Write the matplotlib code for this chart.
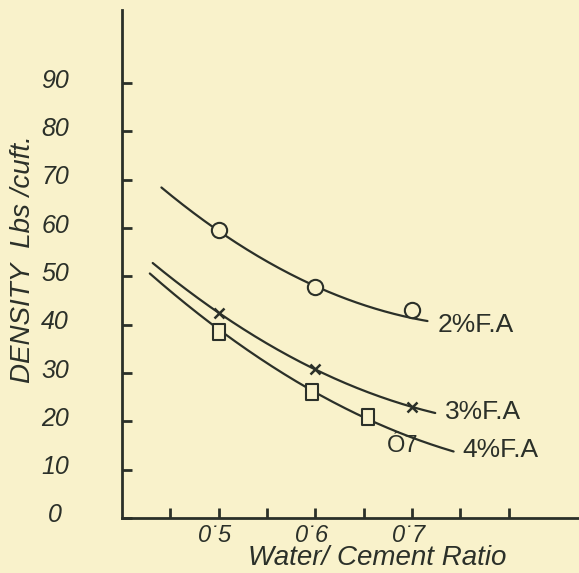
import numpy as np
import matplotlib
matplotlib.use("Agg")
import matplotlib.pyplot as plt
from matplotlib.path import Path
import matplotlib.transforms as mtransforms

# ---- data ----
wc_2 = [0.5, 0.6, 0.7]
dens_2 = [59.6, 47.8, 43.1]
wc_3 = [0.5, 0.6, 0.7]
dens_3 = [42.4, 30.8, 23.0]
wc_4 = [0.5, 0.597, 0.655]
dens_4 = [38.5, 26.1, 20.9]

# trend curves
curve2_x = [0.441, 0.5, 0.6, 0.7, 0.716]
curve2_y = [68.3, 59.6, 47.8, 41.6, 40.6]
curve3_x = [0.432, 0.5, 0.6, 0.7, 0.724]
curve3_y = [52.8, 42.4, 30.8, 23.0, 21.7]
curve4_x = [0.429, 0.5, 0.597, 0.655, 0.705, 0.743]
curve4_y = [50.7, 38.9, 26.1, 20.9, 16.1, 13.7]

series_labels = ["2%F.A", "3%F.A", "4%F.A"]
ytick_vals = [0, 10, 20, 30, 40, 50, 60, 70, 80, 90]
xtick_vals = [0.45, 0.5, 0.55, 0.6, 0.65, 0.7, 0.75, 0.8]
xtick_labels = ["", "0\u02d95", "", "0\u02d96", "", "0\u02d97", "", ""]

BG = "#F9F2CB"
INK = "#2B3029"

plt.rcParams['font.family'] = ['Liberation Sans', 'DejaVu Sans']

W, H = 579, 573
fig = plt.figure(figsize=(W / 100, H / 100), dpi=100, facecolor=BG)
ax = fig.add_axes([121.75 / W, (H - 518) / H, (W - 121.75) / W, (518 - 10) / H])
ax.set_facecolor(BG)
ax.set_xlim(0.4, 0.4 + (W - 121.75) / 967.5)
ax.set_ylim(0, 508 / 4.833)

for s in ["top", "right"]:
    ax.spines[s].set_visible(False)
for s in ["left", "bottom"]:
    ax.spines[s].set_color(INK)
    ax.spines[s].set_linewidth(2.0)

lw = 1.6
for cx, cy in [(curve2_x, curve2_y), (curve3_x, curve3_y), (curve4_x, curve4_y)]:
    p = np.polyfit(cx, cy, 2)
    xx = np.linspace(min(cx), max(cx), 200)
    ax.plot(xx, np.polyval(p, xx), color=INK, lw=lw, zorder=2, solid_capstyle='round')

rect = Path([(-0.38, -0.5), (0.38, -0.5), (0.38, 0.5), (-0.38, 0.5), (-0.38, -0.5)],
            [Path.MOVETO, Path.LINETO, Path.LINETO, Path.LINETO, Path.CLOSEPOLY])

ax.plot(wc_2, dens_2, ls='none', marker='o', ms=11, mfc=BG, mec=INK, mew=1.5, zorder=3)
ax.plot(wc_3, dens_3, ls='none', marker='x', ms=7, mec=INK, mew=1.8, zorder=3)
ax.plot(wc_4, dens_4, ls='none', marker=rect, ms=11, mfc=BG, mec=INK, mew=1.5, zorder=3)

# curve labels
lab_pos = [(0.726, 39.9), (0.734, 21.9), (0.752, 14.1)]
for (lx, ly), t in zip(lab_pos, series_labels):
    ax.text(lx, ly, t, fontsize=19, color=INK, ha='left', va='center', zorder=4)
# stray printed mark near the 4% curve
ax.text(0.690, 15.0, "\u00d37", fontsize=17, color=INK, ha='center', va='center', zorder=4)

# ticks
ax.set_yticks(ytick_vals)
ax.set_yticklabels([str(v) for v in ytick_vals], fontsize=18, style='italic', color=INK)
ax.set_xticks(xtick_vals)
ax.set_xticklabels(xtick_labels, fontsize=17, style='italic', color=INK)
ax.tick_params(axis='y', direction='in', length=7, width=2, color=INK, pad=48)
ax.tick_params(axis='x', direction='in', length=7, width=2, color=INK, pad=4)
for lbl in ax.get_yticklabels():
    lbl.set_horizontalalignment('center')
    lbl.set_transform(lbl.get_transform() + mtransforms.ScaledTranslation(0, 0.05, fig.dpi_scale_trans))
for lbl in ax.get_xticklabels():
    lbl.set_transform(lbl.get_transform() + mtransforms.ScaledTranslation(-0.03, 0, fig.dpi_scale_trans))

fig.text(377 / W, 1 - 558 / H, "Water/ Cement Ratio", fontsize=20, style='italic',
         color=INK, ha='center', va='center')
fig.text(23 / W, 1 - 259 / H, "DENSITY  Lbs /cuft.", fontsize=20, style='italic',
         color=INK, ha='center', va='center', rotation=90)

fig.savefig("out.png", dpi=100, facecolor=BG)
